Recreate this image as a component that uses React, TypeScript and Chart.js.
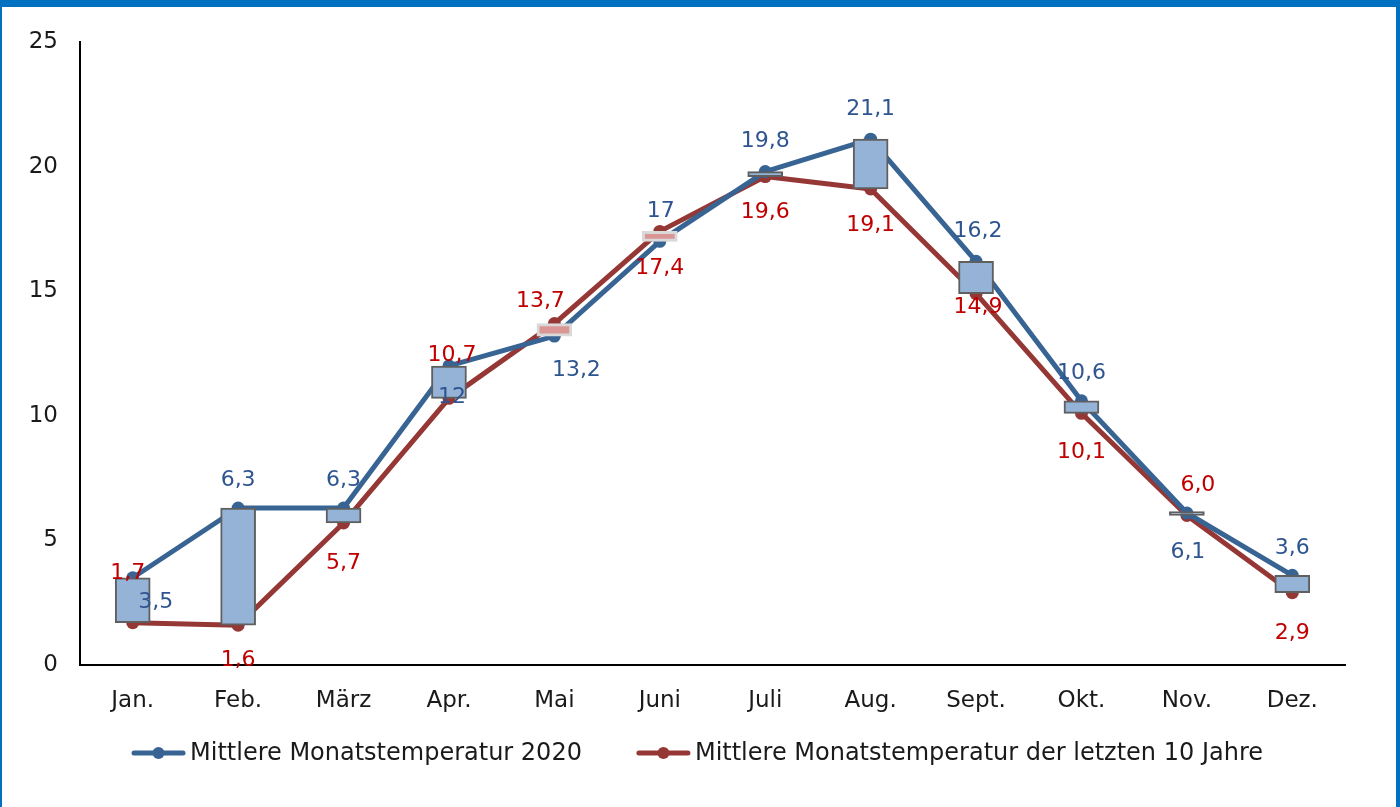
import React, { useEffect, useRef } from "react";
import { Chart, registerables } from "chart.js";

Chart.register(...registerables);

// ---- data ----
const months = ["Jan.", "Feb.", "März", "Apr.", "Mai", "Juni", "Juli", "Aug.", "Sept.", "Okt.", "Nov.", "Dez."];
const temp2020 = [3.5, 6.3, 6.3, 12.0, 13.2, 17.0, 19.8, 21.1, 16.2, 10.6, 6.1, 3.6];
const tempAvg10 = [1.7, 1.6, 5.7, 10.7, 13.7, 17.4, 19.6, 19.1, 14.9, 10.1, 6.0, 2.9];
const labels2020 = ["3,5", "6,3", "6,3", "12", "13,2", "17", "19,8", "21,1", "16,2", "10,6", "6,1", "3,6"];
const labelsAvg10 = ["1,7", "1,6", "5,7", "10,7", "13,7", "17,4", "19,6", "19,1", "14,9", "10,1", "6,0", "2,9"];
const yTicks = [0, 5, 10, 15, 20, 25];
const seriesNames = ["Mittlere Monatstemperatur 2020", "Mittlere Monatstemperatur der letzten 10 Jahre"];

// ---- styles ----
const FONT = '"DejaVu Sans"';
const BLUE_LINE = "#386494";
const RED_LINE = "#953735";
const BLUE_TXT = "#2F5590";
const RED_TXT = "#C00000";
const UP_FILL = "#95B3D7";
const UP_BORDER = "#5F5F5F";
const DOWN_FILL = "#DA9694";
const DOWN_BORDER = "#D9D9D9";
// label offsets (dx, dy) relative to each point
const off2020 = [[23, 25], [0, -28], [0, -28], [3, 31], [22, 34], [1, -30], [0, -30], [0, -30], [2, -30], [0, -28], [1, 39], [0, -27]];
const offAvg10 = [[-5, -49], [0, 35], [0, 40], [3, -43], [-14, -22], [0, 37], [0, 36], [0, 36], [2, 14], [0, 39], [11, -30], [0, 41]];

const labelPlugin = {
  id: "valueLabelsAndLegend",
  afterDatasetsDraw(chart: any) {
    const { ctx, scales } = chart;
    const x = scales.x;
    const y = scales.y;
    ctx.save();
    ctx.font = `22px ${FONT}`;
    ctx.textAlign = "center";
    ctx.textBaseline = "middle";
    temp2020.forEach((v, i) => {
      ctx.fillStyle = BLUE_TXT;
      ctx.fillText(labels2020[i], x.getPixelForValue(i) + off2020[i][0], y.getPixelForValue(v) + off2020[i][1]);
    });
    tempAvg10.forEach((v, i) => {
      ctx.fillStyle = RED_TXT;
      ctx.fillText(labelsAvg10[i], x.getPixelForValue(i) + offAvg10[i][0], y.getPixelForValue(v) + offAvg10[i][1]);
    });

    // legend
    ctx.font = `24px ${FONT}`;
    ctx.textAlign = "left";
    const lineW = 53;
    const gapText = 5;
    const gapItems = 55;
    const w1 = ctx.measureText(seriesNames[0]).width;
    const w2 = ctx.measureText(seriesNames[1]).width;
    const total = lineW + gapText + w1 + gapItems + lineW + gapText + w2;
    let cx = 697.5 - total / 2;
    const ly = 753;
    const colors = [BLUE_LINE, RED_LINE];
    [w1, w2].forEach((w, k) => {
      ctx.strokeStyle = colors[k];
      ctx.lineWidth = 5;
      ctx.lineCap = "round";
      ctx.beginPath();
      ctx.moveTo(cx + 2, ly);
      ctx.lineTo(cx + lineW - 2, ly);
      ctx.stroke();
      ctx.fillStyle = colors[k];
      ctx.beginPath();
      ctx.arc(cx + lineW / 2, ly, 6, 0, Math.PI * 2);
      ctx.fill();
      ctx.fillStyle = "#1a1a1a";
      ctx.fillText(seriesNames[k], cx + lineW + gapText, ly + 1);
      cx += lineW + gapText + w + gapItems;
    });
    ctx.restore();
  },
};

export default function App() {
  const ref = useRef<HTMLCanvasElement | null>(null);

  useEffect(() => {
    if (!ref.current) return;
    const up = temp2020.map((v, i) => v >= tempAvg10[i]);
    const chart = new Chart(ref.current, {
      type: "line",
      data: {
        labels: months,
        datasets: [
          {
            type: "bar",
            label: "Abweichung",
            data: temp2020.map((v, i) => [Math.min(v, tempAvg10[i]), Math.max(v, tempAvg10[i])]) as any,
            backgroundColor: up.map((u) => (u ? UP_FILL : DOWN_FILL)),
            borderColor: up.map((u) => (u ? UP_BORDER : DOWN_BORDER)),
            borderWidth: up.map((u) => (u ? 2 : 3)) as any,
            borderSkipped: false,
            barThickness: 35,
            minBarLength: 4,
            order: 0,
          } as any,
          {
            type: "line",
            label: seriesNames[0],
            data: temp2020,
            borderColor: BLUE_LINE,
            backgroundColor: BLUE_LINE,
            borderWidth: 5,
            pointRadius: 6.5,
            pointBorderWidth: 0,
            pointBackgroundColor: BLUE_LINE,
            borderJoinStyle: "round",
            borderCapStyle: "round",
            tension: 0,
            order: 1,
          },
          {
            type: "line",
            label: seriesNames[1],
            data: tempAvg10,
            borderColor: RED_LINE,
            backgroundColor: RED_LINE,
            borderWidth: 5,
            pointRadius: 6.5,
            pointBorderWidth: 0,
            pointBackgroundColor: RED_LINE,
            borderJoinStyle: "round",
            borderCapStyle: "round",
            tension: 0,
            order: 2,
          },
        ],
      },
      options: {
        animation: false,
        responsive: false,
        devicePixelRatio: 1,
        layout: { padding: { left: 0, right: 55, top: 42, bottom: 92 } },
        plugins: {
          legend: { display: false },
          tooltip: { enabled: false },
        },
        scales: {
          x: {
            grid: { display: false, drawTicks: false },
            border: { display: true, color: "#000", width: 2 },
            ticks: { color: "#1a1a1a", font: { family: FONT, size: 23 }, padding: 22, maxRotation: 0 },
            afterFit: (s: any) => {
              s.height = 50;
            },
          },
          y: {
            min: yTicks[0],
            max: yTicks[yTicks.length - 1],
            grid: { display: false, drawTicks: false },
            border: { display: true, color: "#000", width: 2 },
            ticks: {
              stepSize: yTicks[1] - yTicks[0],
              color: "#1a1a1a",
              font: { family: FONT, size: 23 },
              padding: 22,
            },
            afterFit: (s: any) => {
              s.width = 80;
            },
          },
        },
      },
      plugins: [labelPlugin],
    });
    return () => chart.destroy();
  }, []);

  return (
    <div style={{ position: "fixed", left: 0, top: 0, width: 1400, height: 807, background: "#fff" }}>
      <canvas ref={ref} width={1400} height={807} style={{ display: "block", width: 1400, height: 807 }} />
      <div
        style={{
          position: "absolute",
          left: 0,
          top: 0,
          width: 1400,
          height: 807,
          boxSizing: "border-box",
          borderTop: "7px solid #0070C0",
          borderLeft: "2px solid #0070C0",
          borderRight: "4px solid #0070C0",
          pointerEvents: "none",
        }}
      />
    </div>
  );
}
